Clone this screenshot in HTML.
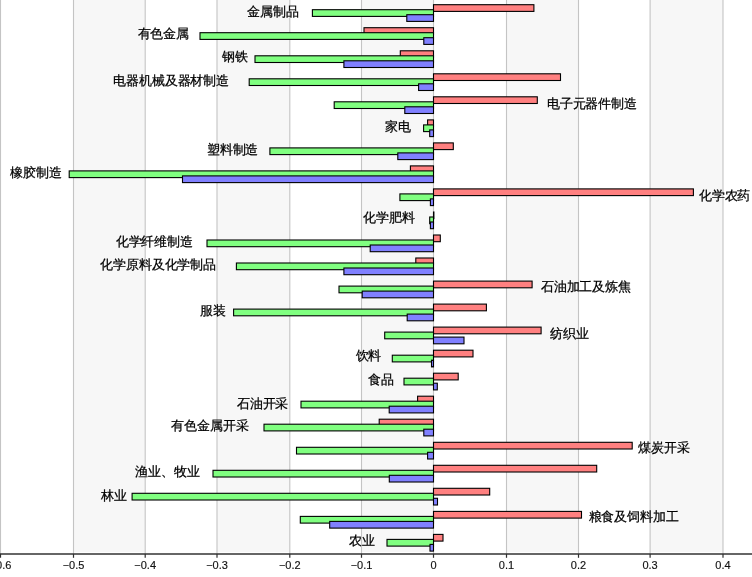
<!DOCTYPE html>
<html><head><meta charset="utf-8"><style>
html,body{margin:0;padding:0;background:#fff;width:752px;height:577px;overflow:hidden}
svg{display:block;will-change:transform}
.ax{font-family:"Liberation Sans",sans-serif;font-size:11px;fill:#111;stroke:#111;stroke-width:0.15px}
.lb{font-family:"Liberation Sans",sans-serif;font-size:12.5px;letter-spacing:-0.15px;fill:#000;font-weight:500;stroke:#000;stroke-width:0.25px}
</style></head><body>
<svg width="752" height="577" viewBox="0 0 752 577">
<rect x="73.5" y="0" width="71.7" height="552" fill="#f7f7f7"/>
<rect x="217.0" y="0" width="72.8" height="552" fill="#f7f7f7"/>
<rect x="361.5" y="0" width="72.0" height="552" fill="#f7f7f7"/>
<rect x="506.5" y="0" width="72.0" height="552" fill="#f7f7f7"/>
<rect x="650.1" y="0" width="72.9" height="552" fill="#f7f7f7"/>
<line x1="0.5" y1="0" x2="0.5" y2="554.0" stroke="#c4c4c4" stroke-width="1.1"/>
<line x1="73.5" y1="0" x2="73.5" y2="554.0" stroke="#c4c4c4" stroke-width="1.1"/>
<line x1="145.2" y1="0" x2="145.2" y2="554.0" stroke="#c4c4c4" stroke-width="1.1"/>
<line x1="217.0" y1="0" x2="217.0" y2="554.0" stroke="#c4c4c4" stroke-width="1.1"/>
<line x1="289.8" y1="0" x2="289.8" y2="554.0" stroke="#c4c4c4" stroke-width="1.1"/>
<line x1="361.5" y1="0" x2="361.5" y2="554.0" stroke="#c4c4c4" stroke-width="1.1"/>
<line x1="433.5" y1="0" x2="433.5" y2="554.0" stroke="#c4c4c4" stroke-width="1.1"/>
<line x1="506.5" y1="0" x2="506.5" y2="554.0" stroke="#c4c4c4" stroke-width="1.1"/>
<line x1="578.5" y1="0" x2="578.5" y2="554.0" stroke="#c4c4c4" stroke-width="1.1"/>
<line x1="650.1" y1="0" x2="650.1" y2="554.0" stroke="#c4c4c4" stroke-width="1.1"/>
<line x1="723.0" y1="0" x2="723.0" y2="554.0" stroke="#c4c4c4" stroke-width="1.1"/>
<rect x="433.5" y="4.7" width="100.4" height="6.7" fill="#ff8080" stroke="#000" stroke-width="1.1"/>
<rect x="312.4" y="9.7" width="121.1" height="6.7" fill="#80ff80" stroke="#000" stroke-width="1.1"/>
<rect x="406.8" y="14.7" width="26.7" height="6.7" fill="#8080ff" stroke="#000" stroke-width="1.1"/>
<rect x="364.0" y="27.7" width="69.5" height="6.7" fill="#ff8080" stroke="#000" stroke-width="1.1"/>
<rect x="200.0" y="32.7" width="233.5" height="6.7" fill="#80ff80" stroke="#000" stroke-width="1.1"/>
<rect x="423.8" y="37.7" width="9.7" height="6.7" fill="#8080ff" stroke="#000" stroke-width="1.1"/>
<rect x="400.3" y="50.8" width="33.2" height="6.7" fill="#ff8080" stroke="#000" stroke-width="1.1"/>
<rect x="255.0" y="55.8" width="178.5" height="6.7" fill="#80ff80" stroke="#000" stroke-width="1.1"/>
<rect x="343.9" y="60.8" width="89.6" height="6.7" fill="#8080ff" stroke="#000" stroke-width="1.1"/>
<rect x="433.5" y="73.8" width="127.0" height="6.7" fill="#ff8080" stroke="#000" stroke-width="1.1"/>
<rect x="249.2" y="78.8" width="184.3" height="6.7" fill="#80ff80" stroke="#000" stroke-width="1.1"/>
<rect x="418.6" y="83.8" width="14.9" height="6.7" fill="#8080ff" stroke="#000" stroke-width="1.1"/>
<rect x="433.5" y="96.8" width="103.8" height="6.7" fill="#ff8080" stroke="#000" stroke-width="1.1"/>
<rect x="334.2" y="101.8" width="99.3" height="6.7" fill="#80ff80" stroke="#000" stroke-width="1.1"/>
<rect x="404.8" y="106.8" width="28.7" height="6.7" fill="#8080ff" stroke="#000" stroke-width="1.1"/>
<rect x="427.6" y="119.9" width="5.9" height="6.7" fill="#ff8080" stroke="#000" stroke-width="1.1"/>
<rect x="423.6" y="124.9" width="9.9" height="6.7" fill="#80ff80" stroke="#000" stroke-width="1.1"/>
<rect x="429.7" y="129.9" width="3.8" height="6.7" fill="#8080ff" stroke="#000" stroke-width="1.1"/>
<rect x="433.5" y="142.9" width="19.8" height="6.7" fill="#ff8080" stroke="#000" stroke-width="1.1"/>
<rect x="269.9" y="147.9" width="163.6" height="6.7" fill="#80ff80" stroke="#000" stroke-width="1.1"/>
<rect x="397.8" y="152.9" width="35.7" height="6.7" fill="#8080ff" stroke="#000" stroke-width="1.1"/>
<rect x="410.4" y="165.9" width="23.1" height="6.7" fill="#ff8080" stroke="#000" stroke-width="1.1"/>
<rect x="69.2" y="170.9" width="364.3" height="6.7" fill="#80ff80" stroke="#000" stroke-width="1.1"/>
<rect x="182.5" y="175.9" width="251.0" height="6.7" fill="#8080ff" stroke="#000" stroke-width="1.1"/>
<rect x="433.5" y="188.9" width="259.9" height="6.7" fill="#ff8080" stroke="#000" stroke-width="1.1"/>
<rect x="399.9" y="193.9" width="33.6" height="6.7" fill="#80ff80" stroke="#000" stroke-width="1.1"/>
<rect x="430.4" y="198.9" width="3.1" height="6.7" fill="#8080ff" stroke="#000" stroke-width="1.1"/>
<rect x="433.5" y="212.0" width="0.4" height="6.7" fill="#ff8080" stroke="#000" stroke-width="1.1"/>
<rect x="429.7" y="217.0" width="3.8" height="6.7" fill="#80ff80" stroke="#000" stroke-width="1.1"/>
<rect x="430.4" y="222.0" width="3.1" height="6.7" fill="#8080ff" stroke="#000" stroke-width="1.1"/>
<rect x="433.5" y="235.0" width="6.8" height="6.7" fill="#ff8080" stroke="#000" stroke-width="1.1"/>
<rect x="207.0" y="240.0" width="226.5" height="6.7" fill="#80ff80" stroke="#000" stroke-width="1.1"/>
<rect x="370.2" y="245.0" width="63.3" height="6.7" fill="#8080ff" stroke="#000" stroke-width="1.1"/>
<rect x="415.8" y="258.0" width="17.7" height="6.7" fill="#ff8080" stroke="#000" stroke-width="1.1"/>
<rect x="236.4" y="263.0" width="197.1" height="6.7" fill="#80ff80" stroke="#000" stroke-width="1.1"/>
<rect x="343.9" y="268.0" width="89.6" height="6.7" fill="#8080ff" stroke="#000" stroke-width="1.1"/>
<rect x="433.5" y="281.1" width="98.6" height="6.7" fill="#ff8080" stroke="#000" stroke-width="1.1"/>
<rect x="339.0" y="286.1" width="94.5" height="6.7" fill="#80ff80" stroke="#000" stroke-width="1.1"/>
<rect x="362.2" y="291.1" width="71.3" height="6.7" fill="#8080ff" stroke="#000" stroke-width="1.1"/>
<rect x="433.5" y="304.1" width="52.9" height="6.7" fill="#ff8080" stroke="#000" stroke-width="1.1"/>
<rect x="233.6" y="309.1" width="199.9" height="6.7" fill="#80ff80" stroke="#000" stroke-width="1.1"/>
<rect x="407.2" y="314.1" width="26.3" height="6.7" fill="#8080ff" stroke="#000" stroke-width="1.1"/>
<rect x="433.5" y="327.1" width="107.6" height="6.7" fill="#ff8080" stroke="#000" stroke-width="1.1"/>
<rect x="384.7" y="332.1" width="48.8" height="6.7" fill="#80ff80" stroke="#000" stroke-width="1.1"/>
<rect x="433.5" y="337.1" width="30.5" height="6.7" fill="#8080ff" stroke="#000" stroke-width="1.1"/>
<rect x="433.5" y="350.2" width="39.5" height="6.7" fill="#ff8080" stroke="#000" stroke-width="1.1"/>
<rect x="392.3" y="355.2" width="41.2" height="6.7" fill="#80ff80" stroke="#000" stroke-width="1.1"/>
<rect x="431.5" y="360.2" width="2.0" height="6.7" fill="#8080ff" stroke="#000" stroke-width="1.1"/>
<rect x="433.5" y="373.2" width="24.7" height="6.7" fill="#ff8080" stroke="#000" stroke-width="1.1"/>
<rect x="404.0" y="378.2" width="29.5" height="6.7" fill="#80ff80" stroke="#000" stroke-width="1.1"/>
<rect x="433.5" y="383.2" width="3.8" height="6.7" fill="#8080ff" stroke="#000" stroke-width="1.1"/>
<rect x="417.6" y="396.2" width="15.9" height="6.7" fill="#ff8080" stroke="#000" stroke-width="1.1"/>
<rect x="301.0" y="401.2" width="132.5" height="6.7" fill="#80ff80" stroke="#000" stroke-width="1.1"/>
<rect x="389.2" y="406.2" width="44.3" height="6.7" fill="#8080ff" stroke="#000" stroke-width="1.1"/>
<rect x="379.2" y="419.2" width="54.3" height="6.7" fill="#ff8080" stroke="#000" stroke-width="1.1"/>
<rect x="264.0" y="424.2" width="169.5" height="6.7" fill="#80ff80" stroke="#000" stroke-width="1.1"/>
<rect x="423.8" y="429.2" width="9.7" height="6.7" fill="#8080ff" stroke="#000" stroke-width="1.1"/>
<rect x="433.5" y="442.3" width="198.7" height="6.7" fill="#ff8080" stroke="#000" stroke-width="1.1"/>
<rect x="296.5" y="447.3" width="137.0" height="6.7" fill="#80ff80" stroke="#000" stroke-width="1.1"/>
<rect x="427.6" y="452.3" width="5.9" height="6.7" fill="#8080ff" stroke="#000" stroke-width="1.1"/>
<rect x="433.5" y="465.3" width="163.2" height="6.7" fill="#ff8080" stroke="#000" stroke-width="1.1"/>
<rect x="213.0" y="470.3" width="220.5" height="6.7" fill="#80ff80" stroke="#000" stroke-width="1.1"/>
<rect x="389.3" y="475.3" width="44.2" height="6.7" fill="#8080ff" stroke="#000" stroke-width="1.1"/>
<rect x="433.5" y="488.3" width="56.2" height="6.7" fill="#ff8080" stroke="#000" stroke-width="1.1"/>
<rect x="132.1" y="493.3" width="301.4" height="6.7" fill="#80ff80" stroke="#000" stroke-width="1.1"/>
<rect x="433.5" y="498.3" width="4.0" height="6.7" fill="#8080ff" stroke="#000" stroke-width="1.1"/>
<rect x="433.5" y="511.4" width="148.0" height="6.7" fill="#ff8080" stroke="#000" stroke-width="1.1"/>
<rect x="300.3" y="516.4" width="133.2" height="6.7" fill="#80ff80" stroke="#000" stroke-width="1.1"/>
<rect x="329.7" y="521.4" width="103.8" height="6.7" fill="#8080ff" stroke="#000" stroke-width="1.1"/>
<rect x="433.5" y="534.4" width="9.5" height="6.7" fill="#ff8080" stroke="#000" stroke-width="1.1"/>
<rect x="387.0" y="539.4" width="46.5" height="6.7" fill="#80ff80" stroke="#000" stroke-width="1.1"/>
<rect x="430.0" y="544.4" width="3.5" height="6.7" fill="#8080ff" stroke="#000" stroke-width="1.1"/>
<line x1="0" y1="554.0" x2="752" y2="554.0" stroke="#333" stroke-width="1.4"/>
<line x1="0.5" y1="554.0" x2="0.5" y2="557.8" stroke="#303030" stroke-width="1.2"/>
<text x="0.5" y="569" text-anchor="middle" class="ax">−0.6</text>
<line x1="73.5" y1="554.0" x2="73.5" y2="557.8" stroke="#303030" stroke-width="1.2"/>
<text x="73.5" y="569" text-anchor="middle" class="ax">−0.5</text>
<line x1="145.2" y1="554.0" x2="145.2" y2="557.8" stroke="#303030" stroke-width="1.2"/>
<text x="145.2" y="569" text-anchor="middle" class="ax">−0.4</text>
<line x1="217.0" y1="554.0" x2="217.0" y2="557.8" stroke="#303030" stroke-width="1.2"/>
<text x="217.0" y="569" text-anchor="middle" class="ax">−0.3</text>
<line x1="289.8" y1="554.0" x2="289.8" y2="557.8" stroke="#303030" stroke-width="1.2"/>
<text x="289.8" y="569" text-anchor="middle" class="ax">−0.2</text>
<line x1="361.5" y1="554.0" x2="361.5" y2="557.8" stroke="#303030" stroke-width="1.2"/>
<text x="361.5" y="569" text-anchor="middle" class="ax">−0.1</text>
<line x1="433.5" y1="554.0" x2="433.5" y2="557.8" stroke="#303030" stroke-width="1.2"/>
<text x="433.5" y="569" text-anchor="middle" class="ax">0</text>
<line x1="506.5" y1="554.0" x2="506.5" y2="557.8" stroke="#303030" stroke-width="1.2"/>
<text x="506.5" y="569" text-anchor="middle" class="ax">0.1</text>
<line x1="578.5" y1="554.0" x2="578.5" y2="557.8" stroke="#303030" stroke-width="1.2"/>
<text x="578.5" y="569" text-anchor="middle" class="ax">0.2</text>
<line x1="650.1" y1="554.0" x2="650.1" y2="557.8" stroke="#303030" stroke-width="1.2"/>
<text x="650.1" y="569" text-anchor="middle" class="ax">0.3</text>
<line x1="723.0" y1="554.0" x2="723.0" y2="557.8" stroke="#303030" stroke-width="1.2"/>
<text x="723.0" y="569" text-anchor="middle" class="ax">0.4</text>
<text x="247.3" y="15.9" class="lb">金属制品</text>
<text x="137.6" y="38.1" class="lb">有色金属</text>
<text x="221.9" y="60.7" class="lb">钢铁</text>
<text x="113.3" y="84.9" class="lb">电器机械及器材制造</text>
<text x="546.9" y="107.5" class="lb">电子元器件制造</text>
<text x="410.4" y="130.8" text-anchor="end" class="lb">家电</text>
<text x="206.9" y="154.0" class="lb">塑料制造</text>
<text x="10.3" y="177.0" class="lb">橡胶制造</text>
<text x="698.9" y="200.0" class="lb">化学农药</text>
<text x="363.2" y="221.8" class="lb">化学肥料</text>
<text x="115.7" y="246.1" class="lb">化学纤维制造</text>
<text x="100.3" y="268.8" class="lb">化学原料及化学制品</text>
<text x="540.9" y="290.8" class="lb">石油加工及炼焦</text>
<text x="199.9" y="315.3" class="lb">服装</text>
<text x="550.3" y="337.8" class="lb">纺织业</text>
<text x="355.6" y="360.3" class="lb">饮料</text>
<text x="367.7" y="384.2" class="lb">食品</text>
<text x="236.9" y="407.7" class="lb">石油开采</text>
<text x="171.3" y="429.9" class="lb">有色金属开采</text>
<text x="638.4" y="452.3" class="lb">煤炭开采</text>
<text x="135.2" y="475.7" class="lb">渔业、牧业</text>
<text x="100.9" y="499.7" class="lb">林业</text>
<text x="588.6" y="521.1" class="lb">粮食及饲料加工</text>
<text x="349.4" y="544.9" class="lb">农业</text>
</svg></body></html>
